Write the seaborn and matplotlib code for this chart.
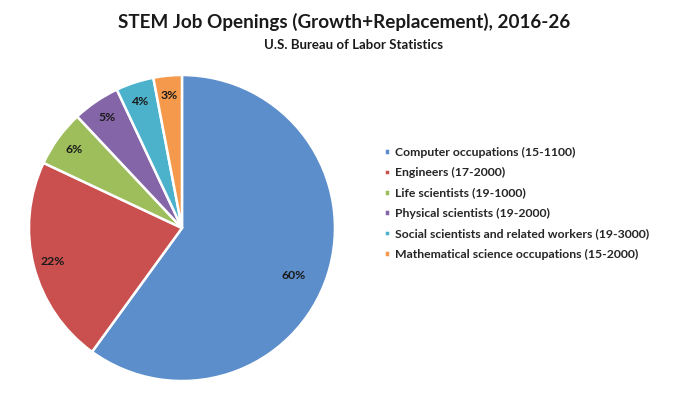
import matplotlib
matplotlib.use("Agg")
import matplotlib.pyplot as plt
import seaborn as sns

# data
categories = [
    "Computer occupations (15-1100)",
    "Engineers (17-2000)",
    "Life scientists (19-1000)",
    "Physical scientists (19-2000)",
    "Social scientists and related workers (19-3000)",
    "Mathematical science occupations (15-2000)",
]
shares = [60, 22, 6, 5, 4, 3]
colors = ["#5B8ECA", "#C9504E", "#9DBE5B", "#8466A8", "#4CB2CC", "#F59A4C"]

sns.set_theme(style="white")
plt.rcParams["font.family"] = ["Lato", "DejaVu Sans"]
pal = sns.color_palette(colors)

fig = plt.figure(figsize=(6.8, 3.99), dpi=100)
ax = fig.add_axes([0.0426, 0.045, 0.45, 0.767])

wedges, texts, autotexts = ax.pie(
    shares, colors=pal, startangle=90, counterclock=False,
    autopct="%d%%", pctdistance=0.87, radius=1.0,
    wedgeprops=dict(edgecolor="white", linewidth=1.8),
    textprops=dict(fontsize=8.8, fontweight="bold", color="#1a1a1a"),
)
# the big slice label sits a bit further in
x, y = autotexts[0].get_position()
autotexts[0].set_position((x * 0.88, y * 1.15))
ax.set_xlim(-1, 1)
ax.set_ylim(-1, 1)
ax.set_aspect("equal")

fig.text(0.506, 0.944, "STEM Job Openings (Growth+Replacement), 2016-26",
         ha="center", va="center", fontsize=13.6, fontweight="bold", color="#1a1a1a")
fig.text(0.52, 0.888, "U.S. Bureau of Labor Statistics",
         ha="center", va="center", fontsize=9.5, fontweight="bold", color="#1a1a1a")

fig.legend(wedges, categories, loc="upper left", bbox_to_anchor=(0.549, 0.66),
           frameon=False, handlelength=0.45, handleheight=0.45,
           handletextpad=0.45, labelspacing=0.77, prop=dict(size=8.8, weight="bold"))

fig.savefig("out.png", dpi=100)
